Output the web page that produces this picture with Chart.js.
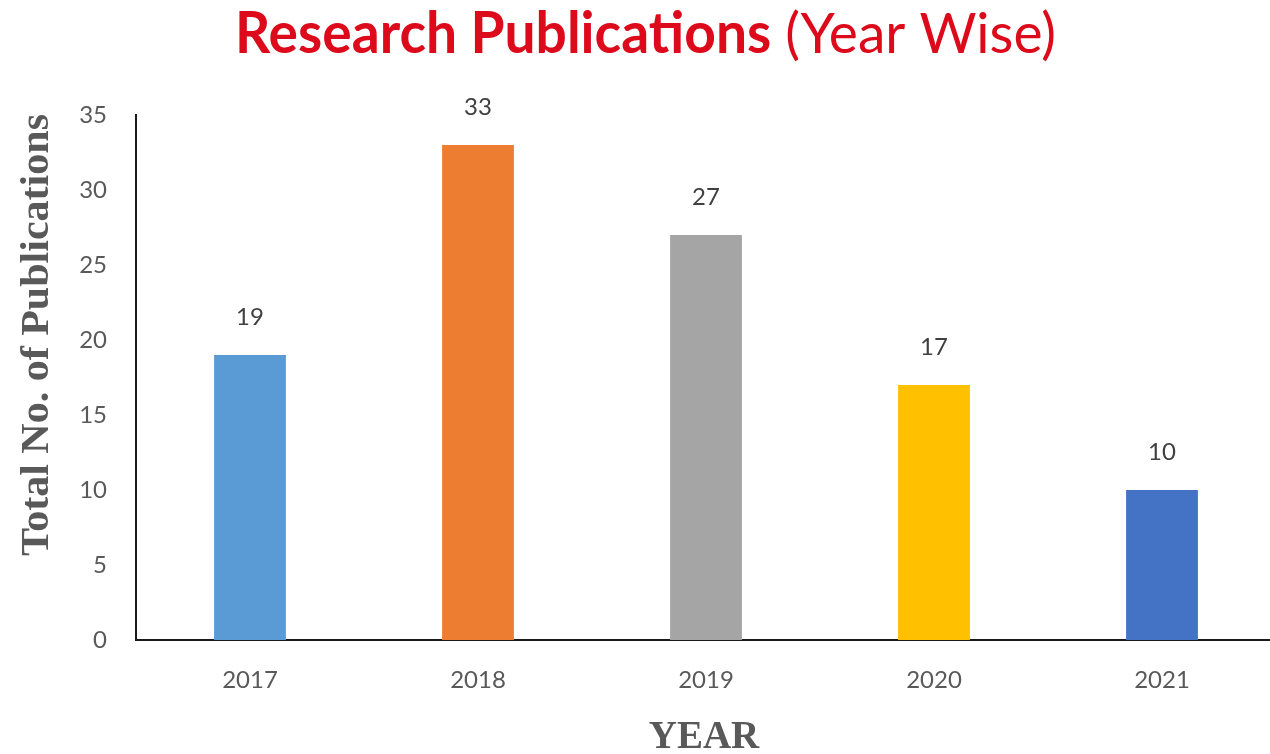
<!DOCTYPE html>
<html>
<head>
<meta charset="utf-8">
<script src="https://cdn.jsdelivr.net/npm/chart.js@4"></script>
<style>
html, body { margin: 0; padding: 0; overflow: hidden; background: #ffffff; }
#wrap { position: absolute; left: 0; top: 0; width: 1280px; height: 754px; }
</style>
</head>
<body>
<div id="wrap"><canvas id="c" width="1280" height="754"></canvas></div>
<script>
// ---- data ----
const years = ['2017', '2018', '2019', '2020', '2021'];
const publications = [19, 33, 27, 17, 10];
const barColors = ['#5B9BD5', '#ED7D31', '#A5A5A5', '#FFC000', '#4472C4'];
const yTicks = [0, 5, 10, 15, 20, 25, 30, 35];
const titleBold = 'Research Publications';
const titleRegular = ' (Year Wise)';
const yTitle = 'Total No. of Publications';
const xTitle = 'YEAR';

const labelFont = 'Lato, "Open Sans", sans-serif';

const decorPlugin = {
  id: 'decor',
  afterDatasetsDraw(chart) {
    const ctx = chart.ctx;
    // value labels above bars
    const meta = chart.getDatasetMeta(0);
    ctx.save();
    ctx.fillStyle = '#404040';
    ctx.font = '24px ' + labelFont;
    ctx.textAlign = 'center';
    ctx.textBaseline = 'middle';
    meta.data.forEach((bar, i) => {
      ctx.fillText(String(publications[i]), bar.x, bar.y - 38);
    });
    ctx.restore();
  },
  afterDraw(chart) {
    const ctx = chart.ctx;
    // main title, mixed weights
    ctx.save();
    const fs = 57;
    const fb = 'bold ' + fs + 'px Lato, sans-serif';
    const fr = 'normal ' + fs + 'px Lato, sans-serif';
    ctx.font = fb; const wb = ctx.measureText(titleBold).width;
    ctx.font = fr; const wr = ctx.measureText(titleRegular).width;
    const left = 235, right = 1056;
    const sx = (right - left) / (wb + wr);
    ctx.translate(left, 53);
    ctx.scale(sx, 1);
    ctx.textBaseline = 'alphabetic';
    ctx.textAlign = 'left';
    ctx.fillStyle = '#DC0A1A';
    ctx.font = fb; ctx.fillText(titleBold, 0, 0);
    ctx.font = fr; ctx.fillText(titleRegular, wb, 0);
    ctx.restore();

    // y axis title
    ctx.save();
    ctx.fillStyle = '#595959';
    ctx.font = 'bold 40px "Liberation Serif", "DejaVu Serif", serif';
    const wy = ctx.measureText(yTitle).width;
    ctx.translate(48, 335);
    ctx.rotate(-Math.PI / 2);
    ctx.scale(442 / wy, 1);
    ctx.textAlign = 'center';
    ctx.textBaseline = 'alphabetic';
    ctx.fillText(yTitle, 0, 0);
    ctx.restore();

    // x axis title
    ctx.save();
    ctx.fillStyle = '#595959';
    ctx.font = 'bold 39px "Liberation Serif", "DejaVu Serif", serif';
    ctx.textAlign = 'center';
    ctx.textBaseline = 'alphabetic';
    ctx.fillText(xTitle, (chart.chartArea.left + chart.chartArea.right) / 2 - 2, 748);
    ctx.restore();
  }
};

new Chart(document.getElementById('c'), {
  type: 'bar',
  data: {
    labels: years,
    datasets: [{
      data: publications,
      backgroundColor: barColors,
      borderWidth: 0,
      categoryPercentage: 1,
      barPercentage: 0.315
    }]
  },
  options: {
    responsive: false,
    animation: false,
    devicePixelRatio: 1,
    layout: { padding: { top: 115, right: 4, left: 0, bottom: 0 } },
    plugins: { legend: { display: false }, tooltip: { enabled: false }, title: { display: false } },
    scales: {
      x: {
        grid: { display: false, drawTicks: false },
        border: { display: true, color: '#1a1a1a', width: 2 },
        ticks: { color: '#595959', font: { family: labelFont, size: 24 }, padding: 26 },
        afterFit(scale) { scale.height = 114; }
      },
      y: {
        min: 0, max: 35,
        grid: { display: false, drawTicks: false },
        border: { display: true, color: '#1a1a1a', width: 2 },
        afterBuildTicks(scale) { scale.ticks = yTicks.map(v => ({ value: v })); },
        ticks: { color: '#595959', font: { family: labelFont, size: 24 }, padding: 29 },
        afterFit(scale) { scale.width = 136; }
      }
    }
  },
  plugins: [decorPlugin]
});
</script>
</body>
</html>
